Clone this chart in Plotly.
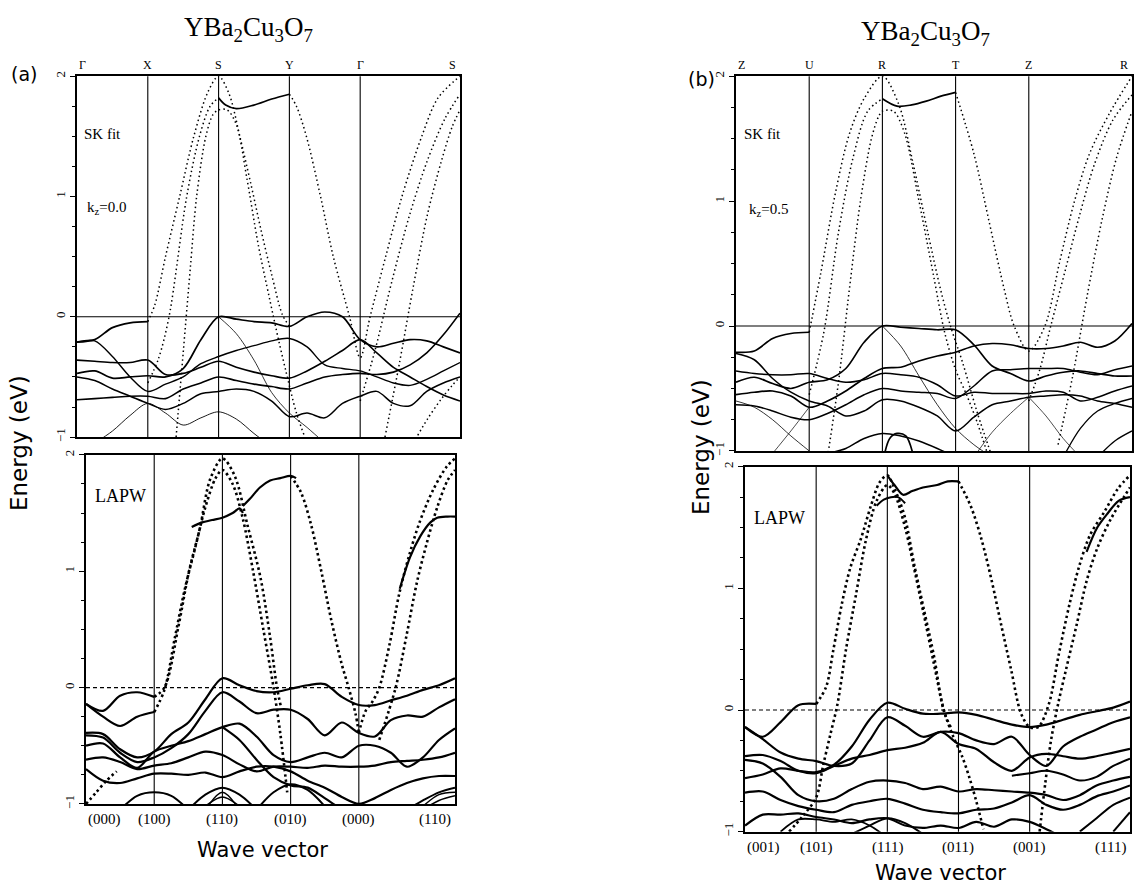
import plotly.graph_objects as go

W, H = 1135, 892
N = None

# ---------------- axes / labels ----------------
K_NODES = [0, 1, 2, 3, 4, 5.41]
K_GRID = [0, 0.25, 0.5, 0.75, 1, 1.25, 1.5, 1.75, 2, 2.25, 2.5, 2.75, 3,
          3.25, 3.5, 3.75, 4, 4.235, 4.47, 4.705, 4.94, 5.175, 5.41]
E_TICKS = [-1, 0, 1, 2]
LAB_A_TOP = ["Γ", "X", "S", "Y", "Γ", "S"]
LAB_B_TOP = ["Z", "U", "R", "T", "Z", "R"]
LAB_A_BOT = ["(000)", "(100)", "(110)", "(010)", "(000)", "(110)"]
LAB_B_BOT = ["(001)", "(101)", "(111)", "(011)", "(001)", "(111)"]

# ---------------- panel (a) top : SK fit, kz=0.0 ----------------
sk0_s1 = [-0.47, -0.45, -0.51, -0.5, -0.49, -0.5, -0.43, -0.19, 0.0, -0.02, -0.04, -0.05, -0.08,
          0.0, 0.04, 0.0, -0.19, -0.25, -0.22, -0.19, -0.2, -0.25, -0.3]
sk0_s2 = [-0.21, -0.19, -0.09, -0.05, -0.04] + [N] * 18
sk0_s3 = [-0.21, -0.2, -0.33, -0.5, -0.62, -0.56, -0.5, -0.39, -0.33, -0.28, -0.24, -0.2, -0.18,
          -0.25, -0.4, -0.43, -0.45, -0.5, -0.55, -0.57, -0.52, -0.45, -0.38]
sk0_s4 = [-0.36, -0.37, -0.38, -0.38, -0.36, -0.48, -0.47, -0.42, -0.37, -0.42, -0.46, -0.49, -0.51,
          -0.45, -0.37, -0.28, -0.19, -0.3, -0.42, -0.5, -0.58, -0.65, -0.7]
sk0_s5 = [-0.5, -0.53, -0.6, -0.66, -0.72, -0.77, -0.72, -0.64, -0.62, -0.6, -0.62, -0.7, -0.83,
          -0.8, -0.84, -0.72, -0.66, -0.62, -0.72, -0.74, -0.62, -0.55, -0.5]
sk0_s6 = [-0.69, -0.68, -0.67, -0.66, -0.66, -0.68, -0.6, -0.55, -0.5, -0.53, -0.56, -0.58, -0.6,
          -0.55, -0.5, -0.48, -0.47, -0.48, -0.46, -0.4, -0.3, -0.15, 0.03]
sk0_s7 = [N, -1.05, -0.95, -0.82, -0.72, -0.8, -0.9, -0.84, -0.79, -0.85, -0.97, -1.08, N,
          N, N, N, N, N, N, N, N, N, N]
sk0_t1 = [N] * 8 + [0.0, -0.14, -0.36, -0.63, -0.8, -0.92, -1.05] + [N] * 8
sk0_flat_k = [2.0, 2.1, 2.25, 2.5, 2.75, 3.0]
sk0_flat_e = [1.82, 1.76, 1.73, 1.76, 1.81, 1.85]
sk0_d1_k = [1, 1.1, 1.25, 1.45, 1.65, 1.85, 2.0, 2.15, 2.3, 2.45, 2.6, 2.75, 2.9, 3.0]
sk0_d1_e = [-0.04, 0.1, 0.5, 1.0, 1.5, 1.87, 2.0, 1.85, 1.5, 1.12, 0.72, 0.35, 0.02, -0.08]
sk0_d2_k = [1.0, 1.15, 1.3, 1.55, 1.73, 1.88, 2.0]
sk0_d2_e = [-0.55, -0.35, 0.0, 1.0, 1.5, 1.75, 1.82]
sk0_d3_k = [1.4, 1.5, 1.6, 1.69, 1.82, 1.92, 2.0, 2.12, 2.25, 2.4, 2.56, 2.72, 2.85, 2.95, 3.1, 3.25]
sk0_d3_e = [-1.0, -0.3, 0.4, 1.0, 1.5, 1.68, 1.72, 1.72, 1.6, 1.15, 0.6, 0.15, -0.2, -0.45, -0.8, -1.05]
sk0_d4_k = [3.0, 3.1, 3.24, 3.44, 3.62, 3.85, 4.0, 4.14, 4.36, 4.59, 4.87, 5.1, 5.41]
sk0_d4_e = [1.85, 1.75, 1.5, 1.0, 0.5, 0.0, -0.34, 0.0, 0.5, 1.0, 1.5, 1.82, 2.0]
sk0_d5_k = [4.0, 4.2, 4.45, 4.7, 4.95, 5.2, 5.41]
sk0_d5_e = [-0.7, -0.3, 0.3, 0.85, 1.3, 1.65, 1.85]
sk0_d6_k = [4.35, 4.55, 4.75, 4.95, 5.15, 5.3, 5.41]
sk0_d6_e = [-1.0, -0.4, 0.25, 0.85, 1.3, 1.58, 1.72]
sk0_d7_k = [4.75, 4.95, 5.15, 5.3, 5.41]
sk0_d7_e = [-1.05, -0.85, -0.68, -0.57, -0.5]

# ---------------- panel (a) bottom : LAPW, kz=0 ----------------
la_s1 = [-0.14, -0.2, -0.07, -0.04, -0.08] + [N] * 18
la_s2 = [-0.14, -0.25, -0.33, -0.25, -0.21] + [N] * 18
la_s3 = [-0.39, -0.4, -0.53, -0.6, -0.55, -0.4, -0.3, -0.1, 0.08, 0.02, -0.03, -0.04, -0.01,
         0.02, 0.03, -0.08, -0.15, -0.15, -0.11, -0.07, -0.02, 0.02, 0.08]
la_s4 = [-0.41, -0.43, -0.56, -0.64, -0.6, -0.52, -0.4, -0.2, -0.04, -0.12, -0.22, -0.19, -0.19,
         -0.27, -0.41, -0.3, -0.39, -0.42, -0.28, -0.24, -0.25, -0.17, -0.1]
la_s5 = [-0.5, -0.48, -0.6, -0.69, -0.55, -0.5, -0.46, -0.4, -0.34, -0.31, -0.42, -0.58, -0.64,
         -0.6, -0.56, -0.6, -0.5, -0.5, -0.56, -0.68, -0.6, -0.45, -0.35]
la_s6 = [-0.62, -0.6, -0.64, -0.7, -0.67, -0.65, -0.6, -0.55, -0.58, -0.66, -0.72, -0.68, -0.68,
         -0.69, -0.67, -0.68, -0.68, -0.67, -0.64, -0.63, -0.62, -0.6, -0.56]
la_s7 = [-0.7, -0.8, -0.82, -0.78, -0.74, -0.74, -0.75, -0.73, -0.77, -0.72, -0.68, -0.68, -0.72,
         -0.8, -0.86, -0.94, -1.0, -0.95, -0.88, -0.82, -0.78, -0.76, -0.76]
la_s8 = [N] * 8 + [-0.34, -0.45, -0.62, -0.77, -0.84, -0.86, -0.95, -1.05, N] + [N] * 6
la_s9 = [N, N, -1.05, -0.93, -0.9, -0.93, -1.05] + [N] * 16
la_s10 = [N] * 6 + [-1.05, -0.92, -0.86, -0.92, -1.05] + [N] * 12
la_s11 = [N] * 7 + [-1.02, -0.94, -1.02] + [N] * 13
la_s12 = [N] * 10 + [-1.05, -0.9, -0.83, -0.88, -1.02] + [N] * 8
la_s13 = [N] * 19 + [-1.05, -0.97, -0.9, -0.86]
la_s14 = [N] * 20 + [-1.05, -0.97, -0.93]
la_s15 = [N] * 7 + [-1.05, -0.9, -1.05] + [N] * 13
la_s16 = [N] * 20 + [-1.02, -0.92, -0.9]
la_h1_k = [1.55, 1.7, 1.85, 2.0, 2.15, 2.25, 2.3]
la_h1_e = [1.38, 1.42, 1.44, 1.46, 1.5, 1.54, 1.5]
la_h2_k = [2.3, 2.4, 2.55, 2.7, 2.85, 3.0, 3.08]
la_h2_e = [1.56, 1.62, 1.72, 1.78, 1.8, 1.82, 1.8]
la_h3_k = [4.6, 4.75, 4.9, 5.05, 5.15, 5.3, 5.41]
la_h3_e = [0.85, 1.12, 1.3, 1.42, 1.46, 1.47, 1.47]
la_d1_k = [1, 1.15, 1.36, 1.51, 1.67, 1.82, 2.0, 2.18, 2.37, 2.56, 2.7, 2.8, 2.86]
la_d1_e = [-0.08, 0.0, 0.54, 1.0, 1.37, 1.79, 1.97, 1.82, 1.39, 0.94, 0.43, 0.0, -0.17]
la_d2_k = [1, 1.15, 1.3, 1.45, 1.6, 1.75, 1.9, 2.0, 2.15, 2.3, 2.45, 2.6, 2.75, 2.85, 2.95]
la_d2_e = [-0.21, -0.02, 0.42, 0.85, 1.2, 1.55, 1.8, 1.87, 1.75, 1.45, 1.0, 0.5, 0.0, -0.4, -0.9]
la_d3_k = [3, 3.15, 3.3, 3.45, 3.6, 3.75, 3.85, 3.95, 4.0]
la_d3_e = [1.82, 1.68, 1.4, 1.0, 0.57, 0.2, 0.0, -0.22, -0.39]
la_d4_k = [4.0, 4.1, 4.2, 4.3, 4.45, 4.59, 4.74, 4.89, 5.09, 5.29, 5.41]
la_d4_e = [-0.39, -0.2, -0.12, 0.0, 0.37, 0.8, 1.14, 1.42, 1.7, 1.9, 1.97]
la_d5_k = [4.3, 4.54, 4.7, 4.85, 5.0, 5.15, 5.3, 5.41]
la_d5_e = [-0.45, 0.0, 0.45, 0.9, 1.25, 1.55, 1.78, 1.87]
la_d6_k = [0, 0.15, 0.3, 0.45]
la_d6_e = [-1.0, -0.9, -0.8, -0.72]

# ---------------- panel (b) top : SK fit, kz=0.5 ----------------
sb_s1 = [-0.21, -0.2, -0.1, -0.06, -0.05] + [N] * 18
sb_s2 = [-0.45, -0.41, -0.46, -0.5, -0.45, -0.43, -0.34, -0.13, 0.0, -0.01, -0.02, -0.03, -0.03,
         -0.15, -0.32, -0.38, -0.44, -0.4, -0.37, -0.36, -0.38, -0.4, -0.4]
sb_s3 = [-0.22, -0.27, -0.42, -0.53, -0.6, -0.64, -0.72, -0.68, -0.59, -0.6, -0.65, -0.72, -0.84,
         -0.73, -0.63, -0.6, -0.57, -0.56, -0.55, -0.56, -0.6, -0.62, -0.65]
sb_s4 = [-0.36, -0.38, -0.39, -0.39, -0.38, -0.42, -0.45, -0.43, -0.38, -0.39, -0.41, -0.47, -0.56,
         -0.53, -0.54, -0.54, -0.54, -0.52, -0.53, -0.6, -0.57, -0.52, -0.48]
sb_s5 = [-0.55, -0.53, -0.52, -0.56, -0.65, -0.6, -0.52, -0.42, -0.34, -0.33, -0.28, -0.24, -0.21,
         -0.16, -0.14, -0.15, -0.18, -0.18, -0.16, -0.13, -0.17, -0.12, 0.02]
sb_s6 = [-0.63, -0.64, -0.68, -0.73, -0.75, -0.7, -0.63, -0.55, -0.5, -0.52, -0.53, -0.54, -0.58,
         -0.48, -0.36, -0.35, -0.34, -0.34, -0.34, -0.37, -0.39, -0.35, -0.32]
sb_s7 = [N] * 5 + [-1.02, -0.98, -0.9, -0.86, -0.88, -0.92, -0.98, -1.05] + [N] * 10
sb_s8 = [N] * 18 + [-1.05, -0.82, -0.68, -0.62, -0.58]
sb_s9 = [N] * 20 + [-1.05, -0.92, -0.84]
sb_t1 = [N] * 8 + [0.0, -0.16, -0.4, -0.63, -0.82, -0.95, -1.05, N, N] + [N] * 6
sb_t2 = [N, N, -1.02, -0.84, -0.65] + [N] * 18
sb_t3 = [-0.6, -0.65, -0.75, -0.88, -1.0] + [N] * 18
sb_t4 = [N] * 16 + [-0.57, -0.72, -0.9, -1.05] + [N] * 3
sb_t5 = [N] * 13 + [-1.05, -0.85, -0.7, -0.57] + [N] * 6
sb_bump_k = [2.02, 2.1, 2.2, 2.32, 2.42]
sb_bump_e = [-1.05, -0.9, -0.86, -0.88, -1.03]
sb_flat_k = [2.0, 2.2, 2.4, 2.6, 2.8, 3.0]
sb_flat_e = [1.82, 1.76, 1.77, 1.8, 1.84, 1.87]
sb_d1_k = [1, 1.16, 1.36, 1.55, 1.75, 2.0, 2.22, 2.42, 2.62, 2.8, 2.93, 3.1, 3.3, 3.5]
sb_d1_e = [-0.05, 0.43, 1.07, 1.54, 1.82, 2.0, 1.78, 1.3, 0.75, 0.28, 0.0, -0.3, -0.7, -1.05]
sb_d2_k = [1, 1.2, 1.4, 1.6, 1.8, 2.0]
sb_d2_e = [-0.55, -0.05, 0.75, 1.35, 1.72, 1.82]
sb_d3_k = [1.25, 1.4, 1.55, 1.7, 1.85, 1.95, 2.0, 2.15, 2.3, 2.5, 2.7, 2.85, 3.0, 3.15, 3.3, 3.45]
sb_d3_e = [-1.05, -0.45, 0.3, 1.0, 1.5, 1.68, 1.72, 1.72, 1.55, 1.0, 0.4, -0.05, -0.35, -0.55, -0.78, -1.05]
sb_d4_k = [3, 3.25, 3.46, 3.67, 3.8, 4.0, 4.22, 4.42, 4.62, 4.83, 5.1, 5.41]
sb_d4_e = [1.87, 1.38, 0.83, 0.28, 0.0, -0.2, 0.0, 0.51, 0.99, 1.38, 1.7, 2.0]
sb_d5_k = [4.0, 4.15, 4.3, 4.5, 4.7, 4.9, 5.15, 5.41]
sb_d5_e = [-0.6, -0.35, 0.0, 0.45, 0.9, 1.3, 1.65, 1.85]
sb_d6_k = [4.4, 4.6, 4.8, 5.0, 5.2, 5.41]
sb_d6_e = [-0.95, -0.4, 0.25, 0.85, 1.35, 1.72]

# ---------------- panel (b) bottom : LAPW, kz=0.5 ----------------
lb_s1 = [-0.14, -0.22, -0.1, 0.04, 0.05] + [N] * 18
lb_s2 = [-0.14, -0.24, -0.35, -0.4, -0.42, -0.46, -0.44, -0.25, -0.06, -0.13, -0.22, -0.18, -0.19,
         -0.25, -0.28, -0.22, -0.37, -0.46, -0.3, -0.22, -0.16, -0.1, -0.06]
lb_s3 = [-0.56, -0.53, -0.48, -0.5, -0.51, -0.45, -0.3, -0.08, 0.06, 0.01, -0.03, -0.03, -0.02,
         -0.04, -0.08, -0.12, -0.14, -0.12, -0.08, -0.04, -0.01, 0.02, 0.07]
lb_s4 = [-0.38, -0.37, -0.42, -0.5, -0.52, -0.46, -0.4, -0.37, -0.33, -0.31, -0.27, -0.18, -0.28,
         -0.32, -0.43, -0.5, -0.39, -0.36, -0.38, -0.4, -0.38, -0.35, -0.32]
lb_s5 = [-0.41, -0.44, -0.55, -0.7, -0.75, -0.73, -0.65, -0.59, -0.58, -0.6, -0.65, -0.63, -0.67,
         -0.65, -0.66, -0.67, -0.68, -0.7, -0.74, -0.7, -0.62, -0.58, -0.55]
lb_s6 = [-0.68, -0.67, -0.74, -0.79, -0.82, -0.84, -0.78, -0.75, -0.73, -0.77, -0.82, -0.84, -0.85,
         -0.82, -0.81, -0.76, -0.7, -0.78, -0.82, -0.78, -0.71, -0.67, -0.62]
lb_s7 = [-0.95, -0.86, -0.86, -0.85, -0.88, -0.9, -0.93, -0.9, -0.89, -0.95, -0.97, -0.95, -0.97,
         -0.92, -0.96, -0.9, -0.92, -0.98, -1.05, N, N, N, N]
lb_s8 = [N] * 15 + [-0.54, -0.52, -0.5, -0.53, -0.58, -0.55, -0.46, -0.4]
lb_s9 = [N] * 19 + [-1.0, -0.89, -0.78, -0.72]
lb_s10 = [N] * 21 + [-1.0, -0.84]
lb_s11 = [N] * 6 + [-1.02, -0.95, -0.89, -0.93, -1.02] + [N] * 12
lb_s12 = [N, N, -1.0, -0.9, -0.9, -0.92, -0.9, -0.95, -1.05] + [N] * 14
lb_h1_k = [2.0, 2.1, 2.22, 2.35, 2.5, 2.7, 2.85, 3.0]
lb_h1_e = [1.93, 1.85, 1.77, 1.8, 1.83, 1.85, 1.88, 1.88]
lb_h2_k = [1.85, 1.95, 2.05, 2.15, 2.25]
lb_h2_e = [1.68, 1.73, 1.75, 1.75, 1.7]
lb_h3_k = [4.8, 4.95, 5.1, 5.25, 5.41]
lb_h3_e = [1.3, 1.5, 1.62, 1.72, 1.75]
lb_d1_k = [1.0, 1.14, 1.24, 1.36, 1.48, 1.63, 1.77, 1.89, 2.0, 2.1, 2.24, 2.38, 2.52, 2.66, 2.75,
           2.82, 2.92, 3.05, 3.15, 3.25, 3.35]
lb_d1_e = [0.05, 0.19, 0.49, 0.87, 1.17, 1.41, 1.68, 1.87, 1.93, 1.82, 1.6, 1.19, 0.81, 0.43, 0.11,
           -0.05, -0.21, -0.38, -0.55, -0.75, -0.98]
lb_d2_k = [0.62, 0.8, 1.0, 1.1, 1.2, 1.3, 1.42, 1.56, 1.7, 1.85, 2.0, 2.1, 2.25, 2.4, 2.55, 2.7, 2.8, 2.9]
lb_d2_e = [-1.0, -0.88, -0.72, -0.45, -0.2, 0.05, 0.5, 0.95, 1.4, 1.72, 1.85, 1.78, 1.5, 1.1, 0.68,
           0.25, -0.02, -0.15]
lb_d4_k = [3.0, 3.17, 3.32, 3.46, 3.6, 3.74, 3.88, 4.0, 4.12, 4.27, 4.41, 4.56, 4.7, 4.85, 5.05, 5.24, 5.41]
lb_d4_e = [1.88, 1.68, 1.41, 1.08, 0.7, 0.33, -0.03, -0.14, -0.14, 0.05, 0.46, 0.87, 1.19, 1.44,
           1.63, 1.82, 1.93]
lb_d5_k = [4.14, 4.22, 4.3, 4.4, 4.51, 4.66, 4.8, 4.95, 5.14, 5.41]
lb_d5_e = [-1.0, -0.6, -0.25, 0.05, 0.33, 0.7, 1.06, 1.33, 1.57, 1.83]

# ---------------- build ----------------
SERIF = "Liberation Serif, DejaVu Serif, serif"
SANS = "DejaVu Sans, Noto Sans, sans-serif"

PANELS = [
    dict(n="", px=(77, 460), py=(72, 437), lapw=False,
         grid=[(sk0_s1, 1.7), (sk0_s2, 1.7), (sk0_s3, 1.4), (sk0_s4, 1.6), (sk0_s5, 1.5),
               (sk0_s6, 1.6), (sk0_s7, 0.9), (sk0_t1, 0.8)],
         solid=[(sk0_flat_k, sk0_flat_e, 1.7)],
         dotted=[(sk0_d1_k, sk0_d1_e), (sk0_d2_k, sk0_d2_e), (sk0_d3_k, sk0_d3_e),
                 (sk0_d4_k, sk0_d4_e), (sk0_d5_k, sk0_d5_e), (sk0_d6_k, sk0_d6_e),
                 (sk0_d7_k, sk0_d7_e)],
         top=LAB_A_TOP, bot=None),
    dict(n="2", px=(86, 455), py=(455, 808), lapw=True,
         grid=[(la_s1, 2.2), (la_s2, 2.2), (la_s3, 2.2), (la_s4, 2.2), (la_s5, 2.2), (la_s6, 2.2),
               (la_s7, 2.2), (la_s8, 2.2), (la_s9, 2.0), (la_s10, 2.0), (la_s11, 1.6),
               (la_s12, 2.0), (la_s13, 2.0), (la_s14, 1.6), (la_s15, 1.4), (la_s16, 1.4)],
         solid=[(la_h1_k, la_h1_e, 2.2), (la_h2_k, la_h2_e, 2.2), (la_h3_k, la_h3_e, 2.2)],
         dotted=[(la_d1_k, la_d1_e), (la_d2_k, la_d2_e), (la_d3_k, la_d3_e), (la_d4_k, la_d4_e),
                 (la_d5_k, la_d5_e), (la_d6_k, la_d6_e)],
         top=None, bot=LAB_A_BOT),
    dict(n="3", px=(736, 1132), py=(72, 451), lapw=False,
         grid=[(sb_s1, 1.7), (sb_s2, 1.7), (sb_s3, 1.5), (sb_s4, 1.5), (sb_s5, 1.7), (sb_s6, 1.5),
               (sb_s7, 1.5), (sb_s8, 1.3), (sb_s9, 1.3), (sb_t1, 0.8), (sb_t2, 0.7), (sb_t3, 0.8),
               (sb_t4, 0.7), (sb_t5, 0.7)],
         solid=[(sb_flat_k, sb_flat_e, 1.7), (sb_bump_k, sb_bump_e, 1.7)],
         dotted=[(sb_d1_k, sb_d1_e), (sb_d2_k, sb_d2_e), (sb_d3_k, sb_d3_e), (sb_d4_k, sb_d4_e),
                 (sb_d5_k, sb_d5_e), (sb_d6_k, sb_d6_e)],
         top=LAB_B_TOP, bot=None),
    dict(n="4", px=(745, 1130), py=(467, 836), lapw=True,
         grid=[(lb_s1, 2.2), (lb_s2, 2.2), (lb_s3, 2.2), (lb_s4, 2.2), (lb_s5, 2.2), (lb_s6, 2.2),
               (lb_s7, 2.2), (lb_s8, 2.0), (lb_s9, 2.0), (lb_s10, 2.0), (lb_s11, 2.0),
               (lb_s12, 1.8)],
         solid=[(lb_h1_k, lb_h1_e, 2.2), (lb_h2_k, lb_h2_e, 2.0), (lb_h3_k, lb_h3_e, 2.2)],
         dotted=[(lb_d1_k, lb_d1_e), (lb_d2_k, lb_d2_e), (lb_d4_k, lb_d4_e), (lb_d5_k, lb_d5_e)],
         top=None, bot=LAB_B_BOT),
]

fig = go.Figure()
layout = dict(width=W, height=H, margin=dict(l=0, r=0, t=0, b=0), autosize=False,
              paper_bgcolor="white", plot_bgcolor="white", showlegend=False,
              font=dict(family=SERIF, color="black"))
shapes, annots = [], []


def px2x(v):
    return v / W


def py2y(v):
    return 1 - v / H


for p in PANELS:
    n = p["n"]
    xr, yr = "x" + n, "y" + n
    layout["xaxis" + n] = dict(domain=[px2x(p["px"][0]), px2x(p["px"][1])], range=[0, K_NODES[-1]],
                               anchor=yr, showline=True, mirror=True, linecolor="black",
                               linewidth=1.6, showgrid=False, zeroline=False,
                               showticklabels=False, ticks="")
    layout["yaxis" + n] = dict(domain=[py2y(p["py"][1]), py2y(p["py"][0])], range=[-1, 2],
                               anchor=xr, showline=True, mirror=True, linecolor="black",
                               linewidth=1.6, showgrid=False, zeroline=False,
                               tickvals=E_TICKS, tickangle=-90, ticks="outside", ticklen=5,
                               tickcolor="black", tickfont=dict(family=SERIF, size=13),
                               minor=dict(dtick=0.25, ticks="outside", ticklen=3,
                                          tickcolor="black", showgrid=False))
    for k in K_NODES[1:-1]:
        shapes.append(dict(type="line", xref=xr, yref=yr + " domain", x0=k, x1=k, y0=0, y1=1,
                           line=dict(color="black", width=1.1)))
    fig.add_trace(go.Scatter(x=[K_NODES[0], K_NODES[-1]], y=[0, 0], mode="lines",
                             xaxis=xr, yaxis=yr, hoverinfo="skip",
                             line=dict(color="black", width=1.2 if p["lapw"] else 1.1,
                                       dash="4px,3px" if p["lapw"] else "solid")))
    for vals, w in p["grid"]:
        fig.add_trace(go.Scatter(x=K_GRID, y=vals, mode="lines", xaxis=xr, yaxis=yr,
                                 connectgaps=False, hoverinfo="skip",
                                 line=dict(color="black", width=w, shape="spline", smoothing=0.9)))
    for kk, ee, w in p["solid"]:
        fig.add_trace(go.Scatter(x=kk, y=ee, mode="lines", xaxis=xr, yaxis=yr, hoverinfo="skip",
                                 line=dict(color="black", width=w, shape="spline", smoothing=0.9)))
    for kk, ee in p["dotted"]:
        fig.add_trace(go.Scatter(x=kk, y=ee, mode="lines", xaxis=xr, yaxis=yr, hoverinfo="skip",
                                 line=dict(color="black", width=2.6 if p["lapw"] else 1.5,
                                           dash="2.5px,3px" if p["lapw"] else "1.5px,3px",
                                           shape="spline", smoothing=0.9)))
    labels = p["top"] or p["bot"]
    ly = (p["py"][0] - 11) if p["top"] else (p["py"][1] + 16)
    for i, (k, t) in enumerate(zip(K_NODES, labels)):
        last = i == len(K_NODES) - 1
        anchor = "left" if i == 0 else ("right" if last else "center")
        annots.append(dict(xref=xr, yref="paper", x=k, y=py2y(ly), text=t, showarrow=False,
                           xanchor=anchor, yanchor="middle", xshift=-2 if last else 0,
                           font=dict(family=SERIF, size=12 if p["top"] else 15)))

TEXTS = [
    ("YBa<sub>2</sub>Cu<sub>3</sub>O<sub>7</sub>", 248, 24, SERIF, 27, 0, "center"),
    ("YBa<sub>2</sub>Cu<sub>3</sub>O<sub>7</sub>", 925, 28, SERIF, 27, 0, "center"),
    ("(a)", 24, 70, SANS, 19, 0, "center"),
    ("(b)", 701, 75, SANS, 19, 0, "center"),
    ("Energy (eV)", 19, 443, SANS, 23, -90, "center"),
    ("Energy (eV)", 701, 447, SANS, 23, -90, "center"),
    ("Wave vector", 262, 855, SANS, 21, 0, "center"),
    ("Wave vector", 940, 878, SANS, 21, 0, "center"),
    ("SK fit", 82, 130, SERIF, 15, 0, "left"),
    ("k<sub>z</sub>=0.0", 85, 205, SERIF, 15, 0, "left"),
    ("SK fit", 742, 130, SERIF, 15, 0, "left"),
    ("k<sub>z</sub>=0.5", 747, 207, SERIF, 15, 0, "left"),
    ("LAPW", 93, 497, SERIF, 18, 0, "left"),
    ("LAPW", 752, 519, SERIF, 18, 0, "left"),
]
for t, x, y, fam, sz, ang, anc in TEXTS:
    annots.append(dict(xref="paper", yref="paper", x=px2x(x), y=py2y(y), text=t, showarrow=False,
                       xanchor=anc, yanchor="middle", textangle=ang,
                       font=dict(family=fam, size=sz, color="black")))

layout["shapes"] = shapes
layout["annotations"] = annots
fig.update_layout(**layout)
fig.update_traces(showlegend=False)
fig.write_html("out.html", config={"displayModeBar": False},
               post_script="document.body.style.margin='0px';document.body.style.overflow='hidden';")
